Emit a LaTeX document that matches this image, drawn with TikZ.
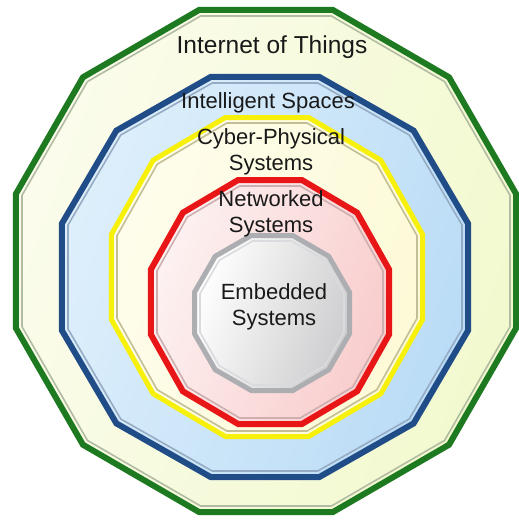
\documentclass[tikz,border=0pt]{standalone}
\usepackage{fontspec}
\setmainfont{Liberation Sans}
\definecolor{labeltext}{RGB}{25,25,25}
\definecolor{iotedge}{RGB}{30,122,32}
\definecolor{iotinner}{RGB}{178,188,162}
\definecolor{iotlight}{RGB}{251,252,236}
\definecolor{iotdark}{RGB}{242,249,206}
\definecolor{spacesedge}{RGB}{32,76,136}
\definecolor{spacesinner}{RGB}{150,172,196}
\definecolor{spaceslight}{RGB}{222,239,251}
\definecolor{spacesdark}{RGB}{186,220,246}
\definecolor{cpsedge}{RGB}{246,240,10}
\definecolor{cpsinner}{RGB}{196,190,150}
\definecolor{cpslight}{RGB}{254,253,236}
\definecolor{cpsdark}{RGB}{252,250,214}
\definecolor{netedge}{RGB}{232,22,22}
\definecolor{netinner}{RGB}{205,175,175}
\definecolor{netlight}{RGB}{253,242,242}
\definecolor{netdark}{RGB}{249,204,204}
\definecolor{embedge}{RGB}{172,174,178}
\definecolor{embinner}{RGB}{218,219,222}
\definecolor{emblight}{RGB}{255,255,255}
\definecolor{embdark}{RGB}{205,205,207}

\begin{document}
\begin{tikzpicture}
[x=1pt,y=-1pt,
every node/.style={align=center,text=labeltext,inner sep=0pt,
  font=\fontsize{22}{26}\selectfont},
ring/.style={line join=miter},
bevel/.style={line width=1.6pt},
]
\useasboundingbox (0,0) rectangle (519,520);
\foreach \name/\cx/\cy/\rx/\ry/\lw/\tone in {
  iot/266/261/253/254/6/iot,
  spaces/265/277/206/203/6/spaces,
  cps/267/277/158/162/5/cps,
  net/270/302/122/125/6/net,
  emb/272/313/80/80/5/emb}
{
  \coordinate (\name) at (\cx,\cy);
  \pgfmathsetmacro\ax{(\rx-\lw/2)*1.0353}
  \pgfmathsetmacro\ay{(\ry-\lw/2)*1.0353}
  \pgfmathsetmacro\bx{(\rx-\lw-3)*1.0353}
  \pgfmathsetmacro\by{(\ry-\lw-3)*1.0353}
  \draw[ring,shift={(\name)},line width=\lw pt,draw=\tone edge,
    left color=\tone light,right color=\tone dark,shading angle=70]
    (15:{\ax} and {\ay}) \foreach \a in {45,75,...,345}{-- (\a:{\ax} and {\ay})} -- cycle;
  \draw[bevel,shift={(\name)},draw=\tone inner]
    (15:{\bx} and {\by}) \foreach \a in {45,75,...,345}{-- (\a:{\bx} and {\by})} -- cycle;
}
\node[anchor=base,font=\fontsize{24.5}{28}\selectfont] (iotlabel) at (272,53) {Internet of Things};
\node[anchor=base] (spaceslabel) at (268,108) {Intelligent Spaces};
\node[anchor=base] (cpslabel) at (271,170) {Cyber-Physical\\Systems};
\node[anchor=base] (netlabel) at (271,232) {Networked\\Systems};
\node[anchor=base] (emblabel) at (274,325) {Embedded\\Systems};
\end{tikzpicture}
\end{document}
